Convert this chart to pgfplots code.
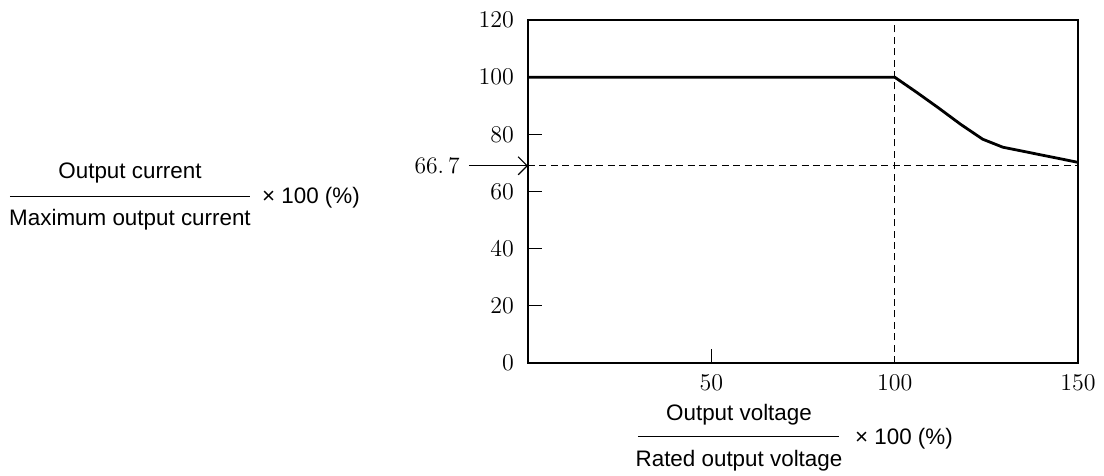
\documentclass[border=0pt]{standalone}
\usepackage{fontspec}
\usepackage{pgfplots}
\pgfplotsset{compat=1.18}
\usetikzlibrary{arrows.meta}
\newfontfamily\sanslab{Liberation Sans}
\begin{document}
\begin{tikzpicture}
\useasboundingbox (-264pt,-56.5pt) rectangle (288pt,181.5pt);
\begin{axis}[
  at={(0pt,0pt)}, anchor=south west,
  scale only axis, width=275pt, height=171.5pt,
  xmin=0, xmax=150, ymin=0, ymax=120,
  axis line style={line width=0.6pt},
  xtick={50}, extra x ticks={100,150},
  extra x tick style={grid=none, major tick length=0pt},
  ytick={0,20,...,120},
  tick pos=left, tick align=inside, major tick length=7pt,
  tick style={line width=0.6pt, black},
  ticklabel style={font=\fontsize{11.8}{13}\selectfont},
  xticklabel style={yshift=-2.5pt},
  yticklabel style={xshift=-3.5pt},
  clip=false,
]
\addplot[black, line width=0.6pt, dash pattern=on 3.5pt off 2.2pt] coordinates {(100,0) (100,120)};
\addplot[black, line width=0.6pt, dash pattern=on 3.5pt off 2.2pt] coordinates {(0,69) (150,69)};
\addplot[black, line width=1.4pt, line join=round] coordinates {(0,100) (100,100) (106,94.7) (112,89.2) (118,83.5) (124,78.3) (129.5,75.5) (150,70.2)};
\draw[-{Straight Barb[length=4.5pt,width=9pt]}, line width=0.6pt] ([xshift=-29.5pt]axis cs:0,69) -- (axis cs:0,69);
\node[anchor=east, font=\fontsize{11.8}{13}\selectfont, inner sep=0pt] at ([xshift=-34pt]axis cs:0,69) {66.\,7};
\end{axis}
% y-axis description (fraction)
\node[font=\sanslab\fontsize{11.2}{12}\selectfont] at (-199pt,95pt) {Output current};
\draw[line width=0.5pt] (-259pt,83pt) -- (-139pt,83pt);
\node[font=\sanslab\fontsize{11.2}{12}\selectfont] at (-199pt,71.5pt) {Maximum output current};
\node[anchor=west, font=\sanslab\fontsize{11.2}{12}\selectfont] at (-136.5pt,82.5pt) {× 100 (\%)};
% x-axis description (fraction)
\node[font=\sanslab\fontsize{11.2}{12}\selectfont] at (105.5pt,-26pt) {Output voltage};
\draw[line width=0.5pt] (55pt,-37pt) -- (155.5pt,-37pt);
\node[font=\sanslab\fontsize{11.2}{12}\selectfont] at (105.5pt,-49pt) {Rated output voltage};
\node[anchor=west, font=\sanslab\fontsize{11.2}{12}\selectfont] at (160pt,-38pt) {× 100 (\%)};
\end{tikzpicture}
\end{document}
